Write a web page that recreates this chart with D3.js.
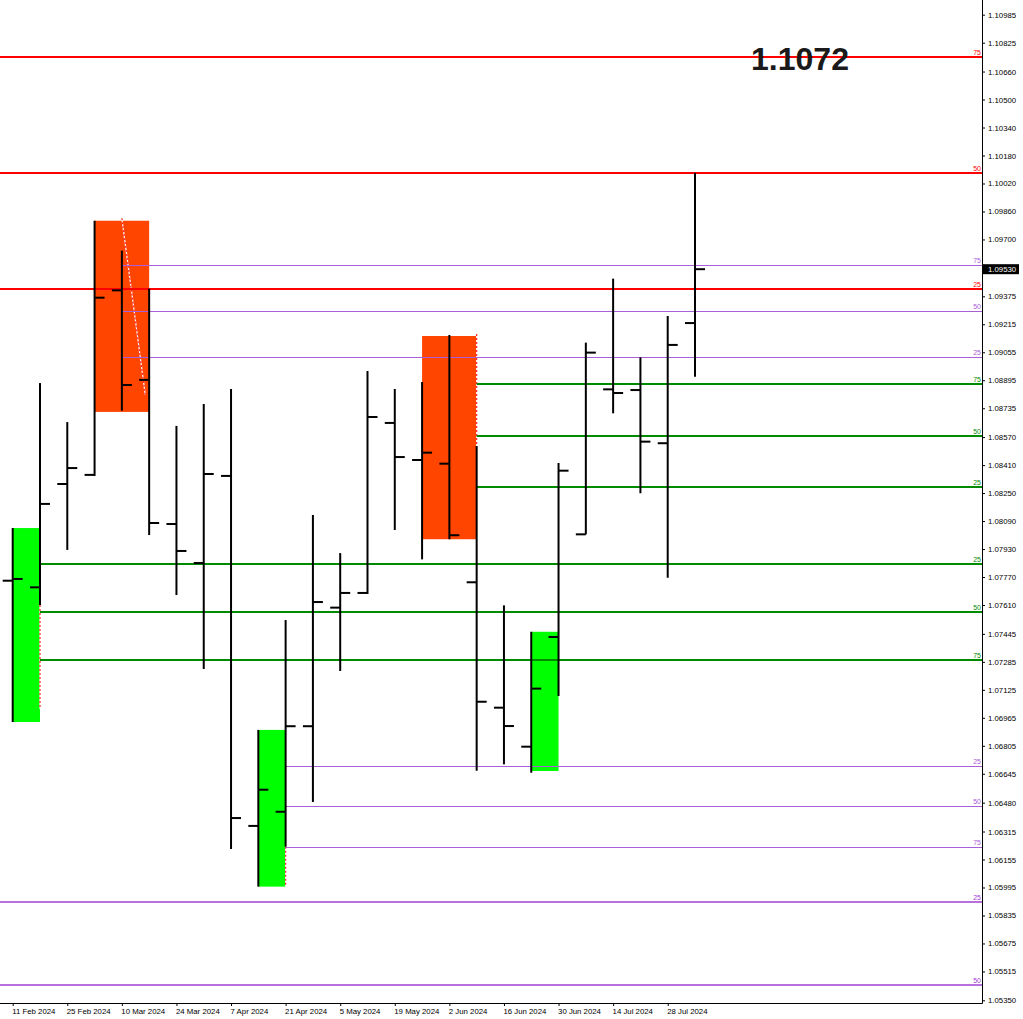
<!DOCTYPE html>
<html>
<head>
<meta charset="utf-8">
<script src="https://cdn.jsdelivr.net/npm/d3@7"></script>
<style>
  body { margin: 0; background: #fff; }
  svg { display: block; }
  .axis text { font-family: "Liberation Sans", Arial, sans-serif; font-size: 7.8px; fill: #000; }
  .lvl { font-family: "Liberation Sans", Arial, sans-serif; font-size: 7px; }
</style>
</head>
<body>
<div id="chart"></div>
<script>
const WIDTH = 1023, HEIGHT = 1019;
const PLOT_RIGHT = 982, PLOT_BOTTOM = 1003;

// weekly bars
const weeks = ["2024-02-11", "2024-02-18", "2024-02-25", "2024-03-03", "2024-03-10", "2024-03-17",
  "2024-03-24", "2024-03-31", "2024-04-07", "2024-04-14", "2024-04-21", "2024-04-28", "2024-05-05",
  "2024-05-12", "2024-05-19", "2024-05-26", "2024-06-02", "2024-06-09", "2024-06-16", "2024-06-23",
  "2024-06-30", "2024-07-07", "2024-07-14", "2024-07-21", "2024-07-28", "2024-08-04"];
const opens  = [1.07749, 1.07711, 1.08302, 1.08354, 1.09409, 1.08897, 1.08073, 1.07850, 1.08348, 1.06347,
  1.06428, 1.06917, 1.07595, 1.07679, 1.08651, 1.08439, 1.08418, 1.07740, 1.07023, 1.06800,
  1.07427, 1.08014, 1.08843, 1.08839, 1.08535, 1.09222];
const highs  = [1.08050, 1.08879, 1.08656, 1.09807, 1.09636, 1.09419, 1.08634, 1.08759, 1.08845, 1.06896,
  1.07524, 1.08125, 1.07907, 1.08948, 1.08845, 1.08885, 1.09154, 1.08519, 1.07608, 1.07457,
  1.08422, 1.09110, 1.09476, 1.09026, 1.09262, 1.10082];
const lows   = [1.06941, 1.07610, 1.07925, 1.08348, 1.08721, 1.08010, 1.07667, 1.07244, 1.06215, 1.06000,
  1.06228, 1.06484, 1.07233, 1.07673, 1.08039, 1.07871, 1.07986, 1.06663, 1.06699, 1.06651,
  1.07090, 1.08014, 1.08706, 1.08249, 1.07766, 1.08915];
const closes = [1.07759, 1.08188, 1.08393, 1.09367, 1.08868, 1.08079, 1.07919, 1.08359, 1.06392, 1.06554,
  1.06917, 1.07627, 1.07679, 1.08685, 1.08456, 1.08481, 1.08009, 1.07057, 1.06918, 1.07132,
  1.08378, 1.09053, 1.08822, 1.08544, 1.09097, 1.09530];

// axis labels
const priceTicks = ["1.10985", "1.10825", "1.10660", "1.10500", "1.10340", "1.10180", "1.10020", "1.09860",
  "1.09700", "1.09375", "1.09215", "1.09055", "1.08895", "1.08735", "1.08570", "1.08410", "1.08250",
  "1.08090", "1.07930", "1.07770", "1.07610", "1.07445", "1.07285", "1.07125", "1.06965", "1.06805",
  "1.06645", "1.06480", "1.06315", "1.06155", "1.05995", "1.05835", "1.05675", "1.05515", "1.05350"];
const dateTicks = ["2024-02-11", "2024-02-25", "2024-03-10", "2024-03-24", "2024-04-07", "2024-04-21",
  "2024-05-05", "2024-05-19", "2024-06-02", "2024-06-16", "2024-06-30", "2024-07-14", "2024-07-28"];

// zones (boxes)
const zoneFrom   = ["2024-03-03", "2024-05-26", "2024-02-11", "2024-04-14", "2024-06-23"];
const zoneTo     = ["2024-03-17", "2024-06-09", "2024-02-18", "2024-04-21", "2024-06-30"];
const zoneTop    = [1.09807, 1.09148, 1.08050, 1.06896, 1.07457];
const zoneBottom = [1.08714, 1.07986, 1.06941, 1.06000, 1.06661];
const zoneKind   = ["sell", "sell", "buy", "buy", "buy"];

// level sets
const redLevels = [1.09419, 1.10082, 1.10741];
const purpleUpper = [1.09026, 1.09290, 1.09556];
const greenUpper = [1.08286, 1.08578, 1.08871];
const greenLower = [1.07845, 1.07570, 1.07297];
const purpleLower = [1.06690, 1.06460, 1.06228];
const purpleBottom = [1.05914, 1.05436];
const levelTags = ["25", "50", "75"];

const titleText = "1.1072";

const parse = d3.utcParse("%Y-%m-%d");
const bars = weeks.map((w, i) => ({
  date: parse(w), open: opens[i], high: highs[i], low: lows[i], close: closes[i]
}));

const svg = d3.select("#chart").append("svg")
  .attr("width", WIDTH)
  .attr("height", HEIGHT);

const x = d3.scaleUtc()
  .domain([parse(weeks[0]), parse(weeks[weeks.length - 1])])
  .range([12.7, 695]);
const y = d3.scaleLinear()
  .domain([1.05350, 1.10985])
  .range([1000.3, 14.7]);

const COLORS = {
  red: "#ff0000", green: "#008a00", purple: "#a860d8", purpleDark: "#a040d4",
  sell: "#ff4500", buy: "#00ff00"
};

// ZONES
svg.append("g")
  .selectAll("rect")
  .data(zoneFrom.map((f, i) => ({ from: parse(f), to: parse(zoneTo[i]), top: zoneTop[i], bottom: zoneBottom[i], kind: zoneKind[i] })))
  .join("rect")
  .attr("x", (d) => x(d.from))
  .attr("y", (d) => y(d.top))
  .attr("width", (d) => x(d.to) - x(d.from))
  .attr("height", (d) => y(d.bottom) - y(d.top))
  .attr("fill", (d) => COLORS[d.kind]);

// dotted edges / trend line
const dotted = [
  { x1: parse("2024-02-18"), y1: 1.07610, x2: parse("2024-02-18"), y2: 1.07016 },
  { x1: parse("2024-04-21"), y1: 1.06228, x2: parse("2024-04-21"), y2: 1.06000 },
  { x1: parse("2024-06-09"), y1: 1.09160, x2: parse("2024-06-09"), y2: 1.08519 },
  { x1: parse("2024-03-10"), y1: 1.09821, x2: parse("2024-03-16"), y2: 1.08811 }
];
const dottedG = svg.append("g");
dottedG.selectAll("line.bg").data(dotted).join("line")
  .attr("class", "bg")
  .attr("x1", (d) => x(d.x1)).attr("x2", (d) => x(d.x2))
  .attr("y1", (d) => y(d.y1)).attr("y2", (d) => y(d.y2))
  .attr("stroke", "#fff").attr("stroke-width", 1.2);
dottedG.selectAll("line.fg").data(dotted).join("line")
  .attr("class", "fg")
  .attr("x1", (d) => x(d.x1)).attr("x2", (d) => x(d.x2))
  .attr("y1", (d) => y(d.y1)).attr("y2", (d) => y(d.y2))
  .attr("stroke", "#ff2020").attr("stroke-width", 1.2)
  .attr("stroke-dasharray", "2,2");

// LEVELS
const levelSets = [
  { prices: redLevels, from: null, color: COLORS.red, width: 2 },
  { prices: purpleUpper, from: parse("2024-03-10"), color: COLORS.purple, width: 1 },
  { prices: greenUpper, from: parse("2024-06-09"), color: COLORS.green, width: 2 },
  { prices: greenLower, from: parse("2024-02-18"), color: COLORS.green, width: 2 },
  { prices: purpleLower, from: parse("2024-04-21"), color: COLORS.purple, width: 1 },
  { prices: purpleBottom, from: null, color: COLORS.purpleDark, width: 1.3 }
];
const levels = [];
levelSets.forEach((s) => {
  s.prices.forEach((p, i) => levels.push({ price: p, tag: levelTags[i], from: s.from, color: s.color, width: s.width }));
});

const levelG = svg.append("g");
levelG.selectAll("line")
  .data(levels)
  .join("line")
  .attr("x1", (d) => (d.from ? x(d.from) : 0))
  .attr("x2", PLOT_RIGHT)
  .attr("y1", (d) => Math.round(y(d.price)) + (d.width === 1 ? 0.5 : 0))
  .attr("y2", (d) => Math.round(y(d.price)) + (d.width === 1 ? 0.5 : 0))
  .attr("stroke", (d) => d.color)
  .attr("stroke-width", (d) => d.width);
levelG.selectAll("text")
  .data(levels)
  .join("text")
  .attr("class", "lvl")
  .attr("x", PLOT_RIGHT - 1)
  .attr("y", (d) => y(d.price) - 2)
  .attr("text-anchor", "end")
  .attr("fill", (d) => d.color)
  .text((d) => d.tag);

// OHLC BARS
const barG = svg.append("g")
  .attr("stroke", "#000")
  .attr("stroke-width", 2);
const barItem = barG.selectAll("g")
  .data(bars)
  .join("g");
barItem.append("line")
  .attr("x1", (d) => x(d.date)).attr("x2", (d) => x(d.date))
  .attr("y1", (d) => y(d.high)).attr("y2", (d) => y(d.low));
barItem.append("line")
  .attr("x1", (d) => x(d.date) - 10).attr("x2", (d) => x(d.date))
  .attr("y1", (d) => y(d.open)).attr("y2", (d) => y(d.open));
barItem.append("line")
  .attr("x1", (d) => x(d.date)).attr("x2", (d) => x(d.date) + 10)
  .attr("y1", (d) => y(d.close)).attr("y2", (d) => y(d.close));

// AXES
const yAxis = svg.append("g")
  .attr("class", "axis")
  .attr("transform", `translate(${PLOT_RIGHT}, 0)`)
  .call(d3.axisRight(y).tickValues(priceTicks.map(Number)).tickFormat(d3.format(".5f")).tickSize(3).tickPadding(3))
  .call((g) => g.select(".domain").remove());
yAxis.selectAll(".tick line").attr("stroke", "#000");

const xAxis = svg.append("g")
  .attr("class", "axis")
  .attr("transform", `translate(0, ${PLOT_BOTTOM})`)
  .call(d3.axisBottom(x).tickValues(dateTicks.map(parse)).tickFormat(d3.utcFormat("%-d %b %Y")).tickSize(3).tickPadding(2))
  .call((g) => g.select(".domain").remove());
xAxis.selectAll(".tick text").attr("text-anchor", "start").attr("dx", -1);

svg.append("line")
  .attr("x1", PLOT_RIGHT + 0.5).attr("x2", PLOT_RIGHT + 0.5)
  .attr("y1", 0).attr("y2", PLOT_BOTTOM + 0.5)
  .attr("stroke", "#000");
svg.append("line")
  .attr("x1", 0).attr("x2", PLOT_RIGHT + 0.5)
  .attr("y1", PLOT_BOTTOM + 0.5).attr("y2", PLOT_BOTTOM + 0.5)
  .attr("stroke", "#000");

// current price tag
const last = closes[closes.length - 1];
svg.append("rect")
  .attr("x", PLOT_RIGHT + 1).attr("y", y(last) - 5)
  .attr("width", 36).attr("height", 10)
  .attr("fill", "#000");
svg.append("text")
  .attr("x", PLOT_RIGHT + 6).attr("y", y(last) + 3)
  .attr("font-family", "Liberation Sans, Arial, sans-serif")
  .attr("font-size", "7.8px")
  .attr("fill", "#fff")
  .text(d3.format(".5f")(last));

// TITLE
svg.append("text")
  .attr("x", 800)
  .attr("y", 70)
  .attr("text-anchor", "middle")
  .attr("font-family", "Liberation Sans, Arial, sans-serif")
  .attr("font-weight", "bold")
  .attr("font-size", "32px")
  .attr("fill", "#1a1a1a")
  .text(titleText);
</script>
</body>
</html>
